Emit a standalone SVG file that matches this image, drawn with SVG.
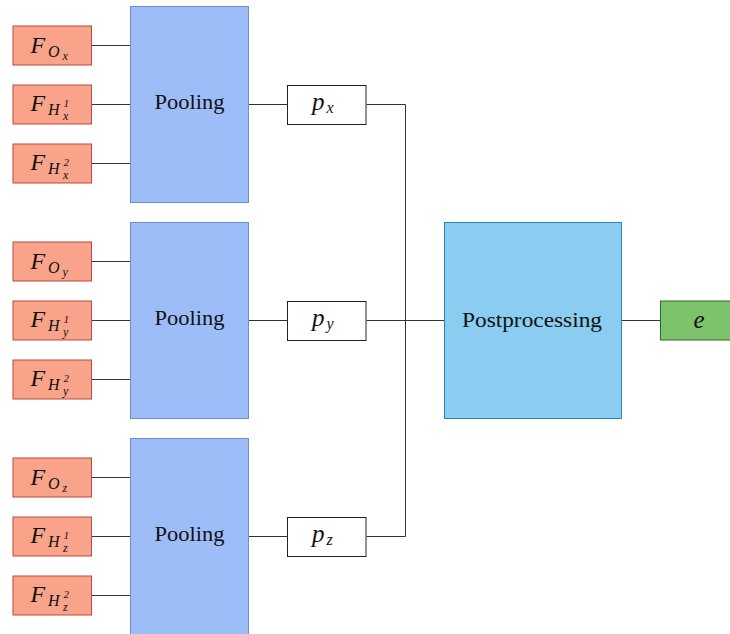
<svg xmlns="http://www.w3.org/2000/svg" width="730" height="634" viewBox="0 0 730 634">
<style>
.f{fill:#F9A38B;stroke:#B84B3B;stroke-width:1}
.pool{fill:#9DBDF9;stroke:#6C8FCC;stroke-width:1}
.pb{fill:#ffffff;stroke:#222222;stroke-width:1}
.post{fill:#8ACDF0;stroke:#2A85BC;stroke-width:1}
.out{fill:#7DC36C;stroke:#2E6A22;stroke-width:1}
.m{font-family:"Liberation Serif","DejaVu Serif",serif;font-style:italic;fill:#111}
.t{font-family:"Liberation Serif","DejaVu Serif",serif;fill:#111;font-size:20px;text-anchor:middle}
.c{stroke:#333;stroke-width:1;fill:none}
</style>
<g id="connectors">
<path class="c" d="M91.5 45.5H130.5M91.5 104.5H130.5M91.5 163.5H130.5"/>
<path class="c" d="M91.5 261.5H130.5M91.5 320.5H130.5M91.5 379.5H130.5"/>
<path class="c" d="M91.5 477.5H130.5M91.5 536.5H130.5M91.5 595.5H130.5"/>
<path class="c" d="M248.5 104.5H287.5M248.5 320.5H287.5M248.5 536.5H287.5"/>
<path class="c" d="M366.5 104.5H405.5V536.5H366.5M366.5 320.5H444.5"/>
<path class="c" d="M621.5 320.5H660.5"/>
</g>
<g id="pool1"><rect class="pool" x="130.5" y="6.5" width="118" height="196"/><text class="t" x="189.5" y="109" textLength="70" lengthAdjust="spacingAndGlyphs">Pooling</text></g>
<g id="pool2"><rect class="pool" x="130.5" y="222.5" width="118" height="196"/><text class="t" x="189.5" y="325" textLength="70" lengthAdjust="spacingAndGlyphs">Pooling</text></g>
<g id="pool3"><rect class="pool" x="130.5" y="438.5" width="118" height="196"/><text class="t" x="189.5" y="541" textLength="70" lengthAdjust="spacingAndGlyphs">Pooling</text></g>

<g id="FOx"><rect class="f" x="13" y="26" width="78.5" height="39"/><text class="m"><tspan x="30.5" y="52.5" font-size="24">F</tspan><tspan x="48" y="56.5" font-size="16">O</tspan><tspan x="62.5" y="59.5" font-size="12">x</tspan></text></g>
<g id="FH1x"><rect class="f" x="13" y="85" width="78.5" height="39"/><text class="m"><tspan x="30.5" y="111.3" font-size="24">F</tspan><tspan x="48" y="115.3" font-size="16">H</tspan><tspan x="63.5" y="106.5" font-size="11">1</tspan></text><text class="m" x="63" y="119.8" font-size="12">x</text></g>
<g id="FH2x"><rect class="f" x="13" y="144" width="78.5" height="39"/><text class="m"><tspan x="30.5" y="170.3" font-size="24">F</tspan><tspan x="48" y="174.3" font-size="16">H</tspan><tspan x="63.5" y="165.5" font-size="11">2</tspan></text><text class="m" x="63" y="178.8" font-size="12">x</text></g>

<g id="FOy"><rect class="f" x="13" y="242" width="78.5" height="39"/><text class="m"><tspan x="30.5" y="268.5" font-size="24">F</tspan><tspan x="48" y="272.5" font-size="16">O</tspan><tspan x="62.5" y="275.5" font-size="12">y</tspan></text></g>
<g id="FH1y"><rect class="f" x="13" y="301" width="78.5" height="39"/><text class="m"><tspan x="30.5" y="327.3" font-size="24">F</tspan><tspan x="48" y="331.3" font-size="16">H</tspan><tspan x="63.5" y="322.5" font-size="11">1</tspan></text><text class="m" x="63" y="335.8" font-size="12">y</text></g>
<g id="FH2y"><rect class="f" x="13" y="360" width="78.5" height="39"/><text class="m"><tspan x="30.5" y="386.3" font-size="24">F</tspan><tspan x="48" y="390.3" font-size="16">H</tspan><tspan x="63.5" y="381.5" font-size="11">2</tspan></text><text class="m" x="63" y="394.8" font-size="12">y</text></g>

<g id="FOz"><rect class="f" x="13" y="458" width="78.5" height="39"/><text class="m"><tspan x="30.5" y="484.5" font-size="24">F</tspan><tspan x="48" y="488.5" font-size="16">O</tspan><tspan x="62.5" y="491.5" font-size="12">z</tspan></text></g>
<g id="FH1z"><rect class="f" x="13" y="517" width="78.5" height="39"/><text class="m"><tspan x="30.5" y="543.3" font-size="24">F</tspan><tspan x="48" y="547.3" font-size="16">H</tspan><tspan x="63.5" y="538.5" font-size="11">1</tspan></text><text class="m" x="63" y="551.8" font-size="12">z</text></g>
<g id="FH2z"><rect class="f" x="13" y="576" width="78.5" height="39"/><text class="m"><tspan x="30.5" y="602.3" font-size="24">F</tspan><tspan x="48" y="606.3" font-size="16">H</tspan><tspan x="63.5" y="597.5" font-size="11">2</tspan></text><text class="m" x="63" y="610.8" font-size="12">z</text></g>

<g id="px"><rect class="pb" x="287.5" y="85.5" width="78.5" height="39"/><text class="m"><tspan x="312" y="109.5" font-size="25">p</tspan><tspan x="326.5" y="113" font-size="16">x</tspan></text></g>
<g id="py"><rect class="pb" x="287.5" y="301.5" width="78.5" height="39"/><text class="m"><tspan x="312" y="325.5" font-size="25">p</tspan><tspan x="326.5" y="329" font-size="16">y</tspan></text></g>
<g id="pz"><rect class="pb" x="287.5" y="517.5" width="78.5" height="39"/><text class="m"><tspan x="312" y="541.5" font-size="25">p</tspan><tspan x="326.5" y="545" font-size="16">z</tspan></text></g>

<g id="post"><rect class="post" x="444.5" y="222.5" width="177" height="196"/><text class="t" x="532" y="327" textLength="140" lengthAdjust="spacingAndGlyphs">Postprocessing</text></g>
<g id="e"><rect class="out" x="660.5" y="301" width="72" height="39"/><text class="m" x="699" y="327.5" font-size="25" text-anchor="middle">e</text></g>
</svg>
